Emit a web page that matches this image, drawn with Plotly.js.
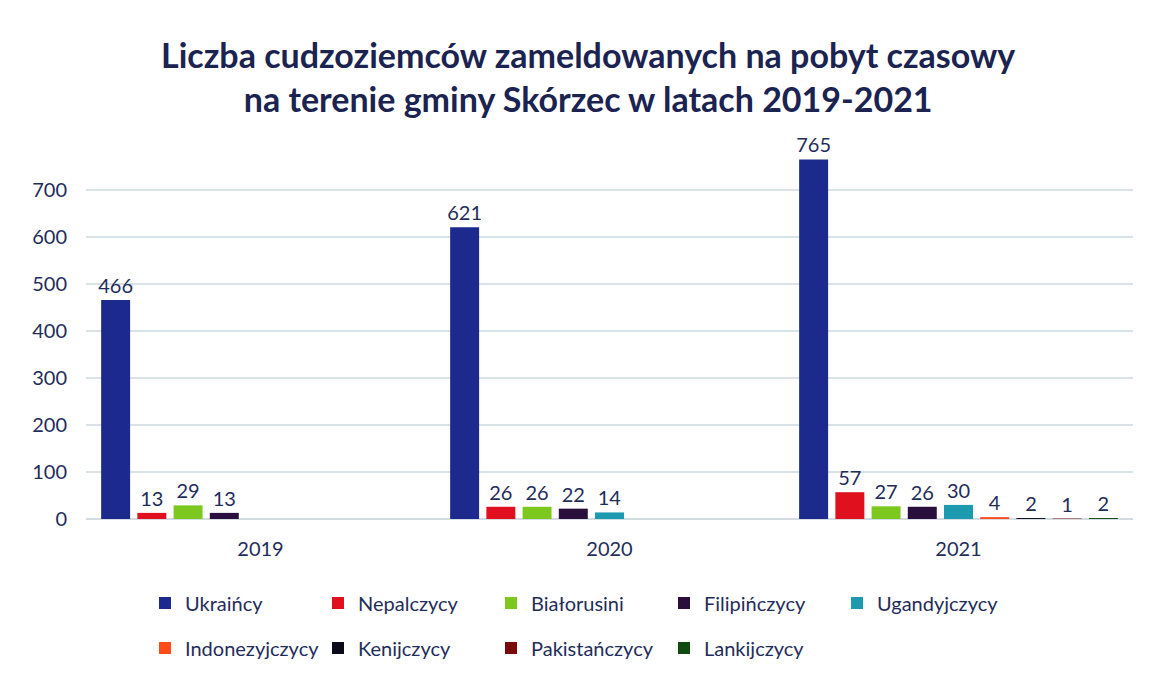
<!DOCTYPE html>
<html>
<head>
<meta charset="utf-8">
<script src="https://cdn.plot.ly/plotly-3.0.1.min.js"></script>
<style>html,body{margin:0;padding:0;background:#fff;}#chart{width:1151px;height:676px;}</style>
</head>
<body>
<div id="chart"></div>
<script>
const years = ["2019", "2020", "2021"];
const seriesNames = ["Ukraińcy", "Nepalczycy", "Białorusini", "Filipińczycy", "Ugandyjczycy", "Indonezyjczycy", "Kenijczycy", "Pakistańczycy", "Lankijczycy"];
const ukraincy = [466, 621, 765];
const nepalczycy = [13, 26, 57];
const bialorusini = [29, 26, 27];
const filipinczycy = [13, 22, 26];
const ugandyjczycy = [null, 14, 30];
const indonezyjczycy = [null, null, 4];
const kenijczycy = [null, null, 2];
const pakistanczycy = [null, null, 1];
const lankijczycy = [null, null, 2];
const seriesValues = [ukraincy, nepalczycy, bialorusini, filipinczycy, ugandyjczycy, indonezyjczycy, kenijczycy, pakistanczycy, lankijczycy];
const colors = ["#1B2A8C", "#E0101E", "#7DC81E", "#2A0F3C", "#1E9AB0", "#FF4A1A", "#0A0A1A", "#7A0A0A", "#0F4A0F"];
const yTicks = [0, 100, 200, 300, 400, 500, 600, 700];

const FONT = "Lato, 'Open Sans', sans-serif";
const NAVY = "#1F2D5A";

const traces = seriesNames.map((name, i) => ({
  type: "bar",
  name: name,
  x: years,
  y: seriesValues[i],
  marker: {color: colors[i]},
  text: seriesValues[i].map(v => v === null ? "" : String(v)),
  textposition: "outside",
  constraintext: "none",
  textfont: {family: FONT, size: 20, color: NAVY},
  cliponaxis: false,
  legend: i < 5 ? "legend" : "legend2",
  hoverinfo: "x+y+name"
}));

const legendCommon = {
  orientation: "h",
  xref: "container", yref: "container",
  xanchor: "left", yanchor: "middle",
  entrywidth: 128, entrywidthmode: "pixels",
  itemwidth: 30,
  font: {family: FONT, size: 20, color: NAVY},
  bgcolor: "rgba(0,0,0,0)",
  traceorder: "normal"
};

const layout = {
  width: 1151, height: 676,
  paper_bgcolor: "#ffffff", plot_bgcolor: "#ffffff",
  margin: {l: 86, r: 18, t: 143, b: 157},
  barmode: "group",
  bargap: 0.066,
  bargroupgap: 0.2,
  title: {
    text: "Liczba cudzoziemców zameldowanych na pobyt czasowy<br>na terenie gminy Skórzec w latach 2019-2021",
    font: {family: FONT, size: 34, color: "#1B2350", weight: "bold"},
    x: 0.511, xref: "container", xanchor: "center",
    y: 1 - 68/676, yref: "container", yanchor: "middle"
  },
  xaxis: {
    type: "category",
    tickfont: {family: FONT, size: 20, color: NAVY},
    showgrid: false, zeroline: false, showline: false,
    ticks: "", ticklabelstandoff: 16
  },
  yaxis: {
    range: [0, 800],
    tickvals: yTicks,
    ticktext: yTicks.map(String),
    tickfont: {family: FONT, size: 20, color: NAVY},
    showgrid: true, gridcolor: "#D9E2E6", gridwidth: 1.5,
    zeroline: true, zerolinecolor: "#D3DCE0", zerolinewidth: 1.5,
    showline: false, ticks: "", ticklabelstandoff: 18
  },
  showlegend: true,
  legend: Object.assign({}, legendCommon, {x: 145/1151, y: 1 - 603/676}),
  legend2: Object.assign({}, legendCommon, {x: 145/1151, y: 1 - 648/676}),
  font: {family: FONT, color: NAVY}
};

Plotly.newPlot("chart", traces, layout, {displayModeBar: false, staticPlot: true});
</script>
</body>
</html>
